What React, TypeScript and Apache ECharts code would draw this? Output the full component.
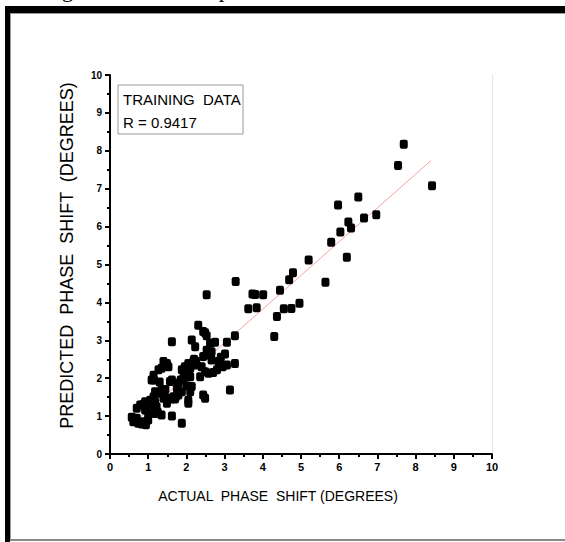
import React, { useEffect, useRef } from "react";
import * as echarts from "echarts";

const actualX: number[] = [
  8.43, 7.69, 7.54, 6.97, 6.65, 6.5, 6.31, 6.24, 6.03, 5.97, 5.79, 5.2, 6.2, 5.64, 4.96, 4.79, 4.69, 4.45, 4.75, 4.55,
  4.37, 4.3, 4.01, 3.73, 3.8, 3.84, 3.62, 3.29, 2.53,
  2.31, 2.49, 2.44, 2.53, 1.62, 2.14, 2.23, 2.75, 3.27, 3.06, 3.01, 2.53, 2.58, 2.66, 2.44, 2.84, 3.27, 3.06, 2.88, 2.8,
  2.49, 2.58, 2.18, 2.05, 1.96, 2.1, 1.88, 2.05, 1.92, 2.1, 1.49, 1.4, 1.53, 1.35, 1.27, 1.14, 1.09, 1.57, 1.79, 1.75,
  2.14, 2.1, 1.88, 1.79, 1.66, 1.53, 1.4, 1.49, 1.35, 1.27, 1.18, 1.14, 1.05, 1.18, 1.05, 1.22, 1.09, 1.0, 1.18, 1.35,
  1.62, 0.92, 0.79, 0.7, 0.92, 0.57, 0.7, 0.61, 0.74, 0.83, 0.94, 1.88, 2.05, 2.05, 2.44, 2.49, 3.14, 2.36, 2.27, 2.4,
  2.62, 1.62, 2.66, 1.7, 1.45, 0.85, 1.0, 2.2, 2.0, 1.85, 1.3, 1.15, 1.95, 2.25, 1.6, 1.72, 1.25, 1.12, 0.88, 2.7, 2.95,
  2.9,
];
const predictedY: number[] = [
  7.08, 8.17, 7.61, 6.31, 6.23, 6.78, 5.96, 6.12, 5.86, 6.57, 5.59, 5.12, 5.19, 4.53, 3.98, 4.78, 4.6, 4.32, 3.84, 3.83,
  3.63, 3.1, 4.2, 4.22, 4.21, 3.86, 3.83, 4.55, 4.2,
  3.4, 3.2, 3.23, 3.12, 2.96, 3.01, 2.83, 2.95, 3.12, 2.95, 2.64, 2.74, 2.61, 2.48, 2.57, 2.44, 2.39, 2.35, 2.35, 2.22,
  2.17, 2.13, 2.44, 2.39, 2.3, 2.26, 2.22, 2.08, 2.0, 2.04, 2.39, 2.44, 2.3, 2.26, 2.22, 2.08, 1.95, 1.91, 1.87, 1.73,
  1.78, 1.64, 1.64, 1.56, 1.51, 1.47, 1.47, 1.34, 1.69, 1.6, 1.64, 1.51, 1.42, 1.38, 1.25, 1.25, 1.12, 1.03, 1.07, 1.03,
  1.0, 1.38, 1.29, 1.21, 1.16, 0.97, 0.94, 0.85, 0.81, 0.79, 0.77, 0.81, 1.42, 1.34, 1.56, 1.47, 1.69, 2.04, 2.35, 2.3,
  2.92, 1.95, 2.7, 1.45, 1.7, 1.3, 0.9, 2.5, 1.8, 1.95, 1.9, 1.95, 2.15, 2.45, 1.45, 1.5, 1.1, 1.25, 0.85, 2.15, 2.3,
  2.55,
];
const fitX: number[] = [0.57, 8.4];
const fitY: number[] = [0.77, 7.74];
const axisTicks: number[] = [0, 1, 2, 3, 4, 5, 6, 7, 8, 9, 10];
const legendLines: string[] = ["TRAINING  DATA", "R = 0.9417"];
const captionText = "the target values of the phase shift";

export default function App() {
  const ref = useRef<HTMLDivElement>(null);
  useEffect(() => {
    if (!ref.current) return;
    const chart = echarts.init(ref.current, undefined, { renderer: "svg" });
    const font = "'Liberation Sans', Arial, sans-serif";
    const points = actualX.map((x, i) => [x, predictedY[i]]);
    const fit = fitX.map((x, i) => [x, fitY[i]]);
    chart.setOption({
      animation: false,
      backgroundColor: "#ffffff",
      grid: { left: 110, top: 75, width: 382, height: 379, containLabel: false },
      xAxis: {
        type: "value",
        min: axisTicks[0],
        max: axisTicks[axisTicks.length - 1],
        interval: 1,
        name: "ACTUAL  PHASE  SHIFT (DEGREES)",
        nameLocation: "middle",
        nameGap: 35,
        nameTextStyle: { fontFamily: font, fontSize: 14, color: "#000", padding: [0, 46, 0, 0] },
        axisLine: { show: true, lineStyle: { color: "#000", width: 2 } },
        axisTick: { show: true, length: 5, lineStyle: { color: "#000", width: 2 } },
        minorTick: { show: true, splitNumber: 2, length: 3, lineStyle: { color: "#000", width: 2 } },
        axisLabel: { fontFamily: font, fontSize: 11, fontWeight: "bold", color: "#000", margin: 7 },
        splitLine: { show: false },
      },
      yAxis: [
        {
          type: "value",
          min: axisTicks[0],
          max: axisTicks[axisTicks.length - 1],
          interval: 1,
          name: "PREDICTED  PHASE  SHIFT  (DEGREES)",
          nameLocation: "middle",
          nameGap: 34,
          nameTextStyle: { fontFamily: font, fontSize: 18, color: "#000", padding: [0, 0, 0, 18] },
          axisLine: { show: true, lineStyle: { color: "#000", width: 2 } },
          axisTick: { show: true, length: 5, lineStyle: { color: "#000", width: 2 } },
          minorTick: { show: true, splitNumber: 2, length: 3, lineStyle: { color: "#000", width: 2 } },
          axisLabel: { fontFamily: font, fontSize: 10, fontWeight: "bold", color: "#000", margin: 8 },
          splitLine: { show: false },
        },
        {
          type: "value",
          position: "right",
          min: 0,
          max: 10,
          axisLine: { show: true, lineStyle: { color: "#e6e6e6", width: 1 } },
          axisTick: { show: false },
          axisLabel: { show: false },
          splitLine: { show: false },
        },
      ],
      series: [
        {
          type: "line",
          data: fit,
          symbol: "none",
          lineStyle: { color: "#f5a3a3", width: 1 },
          z: 1,
        },
        {
          type: "scatter",
          data: points,
          symbol: "roundRect",
          symbolSize: [8, 9],
          itemStyle: { color: "#000", opacity: 1 },
          z: 2,
        },
      ],
      graphic: [
        {
          type: "text",
          left: 4,
          top: -22,
          style: { text: captionText, font: "23px 'Liberation Serif', 'Times New Roman', serif", fill: "#000" },
        },
        { type: "rect", shape: { x: 5, y: 6, width: 560, height: 7 }, style: { fill: "#000" } },
        { type: "rect", shape: { x: 5, y: 6, width: 5, height: 536 }, style: { fill: "#000" } },
        { type: "rect", shape: { x: 10, y: 13, width: 555, height: 1 }, style: { fill: "#999" } },
        { type: "rect", shape: { x: 10, y: 13, width: 1, height: 527 }, style: { fill: "#999" } },
        { type: "rect", shape: { x: 10, y: 539, width: 555, height: 2 }, style: { fill: "#8a8a8a" } },
        {
          type: "rect",
          shape: { x: 118, y: 85, width: 125, height: 49 },
          style: { fill: "#fff", stroke: "#9a9a9a", lineWidth: 1 },
        },
        {
          type: "text",
          x: 123,
          y: 99,
          style: { text: legendLines[0], font: `15px ${font}`, fill: "#000", verticalAlign: "middle" },
        },
        {
          type: "text",
          x: 123,
          y: 122,
          style: { text: legendLines[1], font: `15px ${font}`, fill: "#000", verticalAlign: "middle" },
        },
      ],
    });
    return () => chart.dispose();
  }, []);
  return <div ref={ref} style={{ position: "fixed", left: 0, top: 0, width: 565, height: 542 }} />;
}
